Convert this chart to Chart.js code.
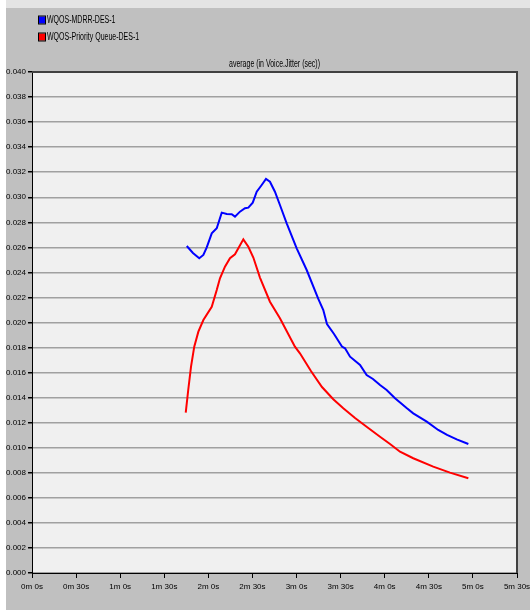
<!DOCTYPE html>
<html>
<head>
<meta charset="utf-8">
<title>Voice Jitter</title>
<script src="https://cdn.jsdelivr.net/npm/chart.js@4/dist/chart.umd.min.js"></script>
<style>
    body { margin: 0; background: #fff; }
    canvas { display: block; }
</style>
</head>
<body>
<canvas id="jitterChart" width="530" height="610"></canvas>
<script>
// series labels
const seriesNames = ['WQOS-MDRR-DES-1', 'WQOS-Priority Queue-DES-1'];
const chartTitle = 'average (in Voice.Jitter (sec))';

// MDRR - time (s) and jitter (sec)
const mdrrTimes = [105.3, 109.5, 113.8, 116.6, 118.9, 122.3, 125.7, 129.1, 132.5, 135.9, 138.1, 141.5,
    144.9, 147.2, 150.2, 152.9, 156.3, 159.2, 161.9, 165.3, 168.7, 173.3, 180.1, 186.9, 194.8, 198.2,
    200.7, 205.5, 210.9, 213.0, 216.4, 223.2, 227.7, 232.0, 236.8, 241.3, 247.0, 254.9, 259.4, 268.6,
    276.4, 282.4, 289.0, 296.9];
const mdrrValues = [0.02611, 0.02555, 0.02513, 0.02539, 0.02600, 0.02712, 0.02752, 0.02877, 0.02866,
    0.02864, 0.02845, 0.02885, 0.02912, 0.02917, 0.02957, 0.03044, 0.03098, 0.03146, 0.03124, 0.03044,
    0.02938, 0.02792, 0.02592, 0.02419, 0.02188, 0.02100, 0.01988, 0.01908, 0.01808, 0.01794, 0.01727,
    0.01661, 0.01581, 0.01549, 0.01501, 0.01461, 0.01395, 0.01317, 0.01275, 0.01208, 0.01142, 0.01102,
    0.01067, 0.01030];

// Priority Queue - time (s) and jitter (sec)
const pqTimes = [104.6, 106.3, 108.2, 110.4, 113.2, 116.6, 122.3, 125.7, 127.9, 131.3, 134.7, 138.1,
    140.4, 143.8, 147.2, 150.6, 155.1, 161.9, 168.7, 178.9, 182.3, 189.8, 197.3, 205.0, 211.8, 219.8,
    227.9, 236.8, 243.6, 250.4, 259.4, 273.0, 284.4, 296.9];
const pqValues = [0.01280, 0.01461, 0.01647, 0.01807, 0.01927, 0.02020, 0.02126, 0.02259, 0.02353,
    0.02446, 0.02513, 0.02545, 0.02592, 0.02664, 0.02605, 0.02519, 0.02359, 0.02166, 0.02034, 0.01807,
    0.01754, 0.01613, 0.01485, 0.01387, 0.01315, 0.01238, 0.01166, 0.01088, 0.01030, 0.00968, 0.00916,
    0.00849, 0.00801, 0.00756];

const FONT = '"Liberation Sans", Arial, sans-serif';

function toPoints(times, values) {
    return times.map((t, i) => ({ x: t, y: values[i] }));
}

// Function to format seconds like "2m 30s"
function formatTime(v) {
    return Math.floor(v / 60) + 'm ' + (v % 60) + 's';
}

// draws squeezed text (the original uses a narrow font)
function narrowText(ctx, text, x, y, align) {
    ctx.save();
    ctx.translate(x, y);
    ctx.scale(0.7, 1);
    ctx.textAlign = align;
    ctx.fillText(text, 0, 0);
    ctx.restore();
}

// background, plot frame, title and legend
const framePlugin = {
    id: 'frame',
    beforeDraw(chart) {
        const ctx = chart.ctx;
        const a = chart.chartArea;
        ctx.save();
        ctx.fillStyle = '#ffffff';
        ctx.fillRect(0, 0, chart.width, chart.height);
        ctx.fillStyle = '#e4e4e4';
        ctx.fillRect(6, 0, chart.width - 6, 8);
        ctx.fillStyle = '#c0c0c0';
        ctx.fillRect(6, 8, chart.width - 6, chart.height - 8);
        ctx.fillStyle = '#f0f0f0';
        ctx.fillRect(a.left, a.top, a.right - a.left, a.bottom - a.top);
        ctx.restore();
    },
    afterDraw(chart) {
        const ctx = chart.ctx;
        const a = chart.chartArea;
        ctx.save();
        // top and right frame
        ctx.strokeStyle = '#404040';
        ctx.lineWidth = 2;
        ctx.beginPath();
        ctx.moveTo(a.left, a.top);
        ctx.lineTo(a.right, a.top);
        ctx.lineTo(a.right, a.bottom);
        ctx.stroke();

        // title
        ctx.fillStyle = '#000';
        ctx.font = '10px ' + FONT;
        ctx.textBaseline = 'middle';
        narrowText(ctx, chartTitle, (a.left + a.right) / 2, 64, 'center');

        // legend
        chart.data.datasets.forEach((ds, i) => {
            const y = 20 + i * 17;
            ctx.fillStyle = ds.borderColor;
            ctx.fillRect(39, y - 3.5, 6, 7);
            ctx.strokeStyle = '#000';
            ctx.lineWidth = 1;
            ctx.strokeRect(38.5, y - 4, 7, 8);
            ctx.fillStyle = '#000';
            narrowText(ctx, ds.label, 47, y, 'left');
        });
        ctx.restore();
    }
};

const ctx = document.getElementById('jitterChart').getContext('2d');
const jitterChart = new Chart(ctx, {
    type: 'line',
    data: {
        datasets: [
            {
                label: seriesNames[0],
                data: toPoints(mdrrTimes, mdrrValues),
                borderColor: '#0000ff',
                borderWidth: 2,
                pointRadius: 0,
                tension: 0
            },
            {
                label: seriesNames[1],
                data: toPoints(pqTimes, pqValues),
                borderColor: '#ff0000',
                borderWidth: 2,
                pointRadius: 0,
                tension: 0
            }
        ]
    },
    options: {
        responsive: false,
        animation: false,
        layout: {
            autoPadding: false,
            padding: { left: 0, top: 72, right: 13, bottom: 0 }
        },
        plugins: {
            legend: { display: false },
            title: { display: false },
            tooltip: { enabled: false }
        },
        scales: {
            x: {
                type: 'linear',
                min: 0,
                max: 330,
                afterFit: s => {
                    s.height = 37;
                    s.paddingLeft = 0;
                    s.paddingRight = 0;
                },
                ticks: {
                    stepSize: 30,
                    autoSkip: false,
                    maxRotation: 0,
                    padding: 4,
                    color: '#000',
                    font: { family: FONT, size: 8 },
                    callback: v => formatTime(v)
                },
                grid: {
                    drawOnChartArea: false,
                    drawTicks: true,
                    tickLength: 5,
                    tickColor: '#000'
                },
                border: { color: '#000', width: 1 }
            },
            y: {
                min: 0,
                max: 0.04,
                afterFit: s => {
                    s.width = 32;
                    s.paddingTop = 0;
                    s.paddingBottom = 0;
                },
                ticks: {
                    stepSize: 0.002,
                    autoSkip: false,
                    padding: 2,
                    color: '#000',
                    font: { family: FONT, size: 8 },
                    callback: v => v.toFixed(3)
                },
                grid: {
                    color: '#a0a0a0',
                    lineWidth: 1.5,
                    tickLength: 4,
                    tickColor: '#000'
                },
                border: { color: '#000', width: 1 }
            }
        }
    },
    plugins: [framePlugin]
});
</script>
</body>
</html>
